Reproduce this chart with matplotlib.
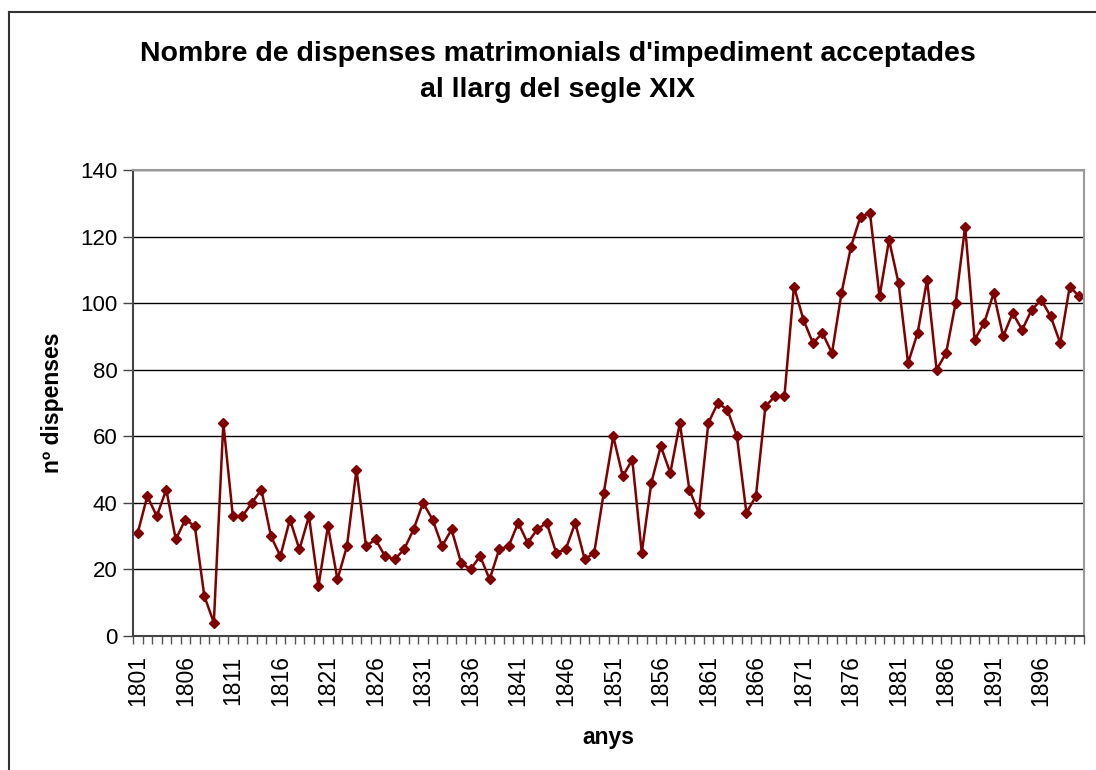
import numpy as np
import matplotlib.pyplot as plt
from matplotlib.lines import Line2D

plt.rcParams['font.family'] = ['Liberation Sans', 'DejaVu Sans']

years = list(range(1801, 1901))
dispenses = [31, 42, 36, 44, 29, 35, 33, 12, 4, 64,
             36, 36, 40, 44, 30, 24, 35, 26, 36, 15,
             33, 17, 27, 50, 27, 29, 24, 23, 26, 32,
             40, 35, 27, 32, 22, 20, 24, 17, 26, 27,
             34, 28, 32, 34, 25, 26, 34, 23, 25, 43,
             60, 48, 53, 25, 46, 57, 49, 64, 44, 37,
             64, 70, 68, 60, 37, 42, 69, 72, 72, 105,
             95, 88, 91, 85, 103, 117, 126, 127, 102, 119,
             106, 82, 91, 107, 80, 85, 100, 123, 89, 94,
             103, 90, 97, 92, 98, 101, 96, 88, 105, 102]
y_ticks = [0, 20, 40, 60, 80, 100, 120, 140]

W, H = 1096, 770
fig = plt.figure(figsize=(W / 100, H / 100), dpi=100)
ax = fig.add_axes([133 / W, 1 - 636 / H, (1084 - 133) / W, (636 - 170) / H])

x = np.arange(len(years))
ax.plot(x, dispenses, color='#800000', linewidth=1.8, marker='D',
        markersize=5.5, markerfacecolor='#800000', markeredgecolor='#800000')

ax.set_xlim(-0.5, len(years) - 0.5)
ax.set_ylim(0, 140)
ax.set_yticks(y_ticks)
ax.yaxis.grid(True, color='black', linewidth=1)
ax.set_axisbelow(True)

# category axis: tick marks between years, labels every 5 years
ax.set_xticks(np.arange(len(years) + 1) - 0.5, minor=True)
ax.set_xticks(x[::5])
ax.set_xticklabels([str(y) for y in years[::5]], rotation=90)
ax.tick_params(axis='x', which='major', length=0, pad=14, labelsize=16.5)
ax.tick_params(axis='x', which='minor', length=6, width=1, color='#555555')
ax.tick_params(axis='y', length=7, width=1, color='#444444', labelsize=16, pad=4)

for side in ['top', 'right']:
    ax.spines[side].set_color('#999999')
    ax.spines[side].set_linewidth(1.5)
for side in ['left', 'bottom']:
    ax.spines[side].set_color('#444444')
    ax.spines[side].set_linewidth(1.5)

ax.set_xlabel('anys', fontsize=16.5, fontweight='bold', labelpad=14)
ax.set_ylabel('nº dispenses', fontsize=16.5, fontweight='bold', labelpad=12)

fig.text(558 / W, 1 - 72 / H,
         "Nombre de dispenses matrimonials d'impediment acceptades\nal llarg del segle XIX",
         ha='center', va='center', fontsize=20.5, fontweight='bold', linespacing=1.5)

# chart frame
fig.add_artist(Line2D([9 / W, 9 / W], [0, 1 - 12 / H], color='#333333', linewidth=1.5))
fig.add_artist(Line2D([9 / W, 1], [1 - 12 / H, 1 - 12 / H], color='#333333', linewidth=1.5))

fig.savefig('out.png', dpi=100)
